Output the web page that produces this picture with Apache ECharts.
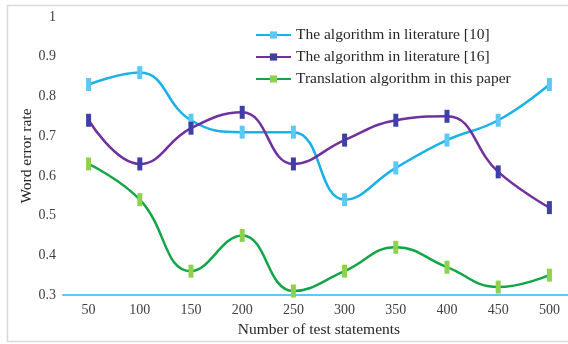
<!DOCTYPE html>
<html>
<head>
<meta charset="utf-8">
<script src="https://cdn.jsdelivr.net/npm/echarts@6/dist/echarts.min.js"></script>
<style>
html,body{margin:0;padding:0;background:#fff;}
#chart{width:568px;height:344px;}
</style>
</head>
<body>
<div id="chart"></div>
<script>
// Word error rate vs. number of test statements
const categories = ['50','100','150','200','250','300','350','400','450','500'];
const lit10 = [0.83, 0.86, 0.74, 0.71, 0.71, 0.54, 0.62, 0.69, 0.74, 0.83];
const lit16 = [0.74, 0.63, 0.72, 0.76, 0.63, 0.69, 0.74, 0.75, 0.61, 0.52];
const ours  = [0.63, 0.54, 0.36, 0.45, 0.31, 0.36, 0.42, 0.37, 0.32, 0.35];
const seriesNames = [
  'The algorithm in literature [10]',
  'The algorithm in literature [16]',
  'Translation algorithm in this paper'
];

const serif = '"Liberation Serif", "DejaVu Serif", serif';
const chart = echarts.init(document.getElementById('chart'));

function lineSeries(name, data, lineColor, markColor) {
  return {
    name: name,
    type: 'line',
    data: data,
    smooth: 0.45,
    symbol: 'rect',
    symbolSize: [5, 13],
    showSymbol: true,
    lineStyle: { color: lineColor, width: 2.5 },
    itemStyle: { color: markColor },
    z: 3
  };
}

chart.setOption({
  animation: false,
  backgroundColor: '#fff',
  graphic: [{
    type: 'rect',
    shape: { x: 7.5, y: 5.5, width: 600, height: 336 },
    style: { fill: 'none', stroke: '#d9d9d9', lineWidth: 1.5 },
    silent: true,
    z: -1
  }],
  grid: { left: 63, top: 17, width: 512, height: 278, outerBoundsMode: 'none', containLabel: false },
  legend: {
    orient: 'vertical',
    left: 250,
    top: 22,
    itemWidth: 35,
    itemHeight: 9,
    itemGap: 6,
    textStyle: { fontFamily: serif, fontSize: 15.5, color: '#262626' },
    data: seriesNames
  },
  xAxis: {
    type: 'category',
    data: categories,
    boundaryGap: true,
    axisLine: { lineStyle: { color: '#5BC8F5', width: 2 } },
    axisTick: { show: false },
    axisLabel: { fontFamily: serif, fontSize: 14, color: '#404040', margin: 8 },
    name: 'Number of test statements',
    nameLocation: 'middle',
    nameGap: 26,
    nameTextStyle: { fontFamily: serif, fontSize: 15.5, color: '#262626' }
  },
  yAxis: {
    type: 'value',
    min: 0.3,
    max: 1,
    interval: 0.1,
    axisLine: { show: false },
    axisTick: { show: false },
    splitLine: { show: false },
    axisLabel: {
      fontFamily: serif, fontSize: 14, color: '#404040', margin: 7,
      formatter: function (v) { return String(Math.round(v * 10) / 10); }
    },
    name: 'Word error rate',
    nameLocation: 'middle',
    nameGap: 28,
    nameMoveOverlap: false,
    nameTextStyle: { fontFamily: serif, fontSize: 15.5, color: '#262626' }
  },
  series: [
    lineSeries(seriesNames[0], lit10, '#1AB0E8', '#5CC8F5'),
    lineSeries(seriesNames[1], lit16, '#7030A0', '#3F3FA8'),
    lineSeries(seriesNames[2], ours,  '#12A548', '#8FD14F')
  ]
});
</script>
</body>
</html>
